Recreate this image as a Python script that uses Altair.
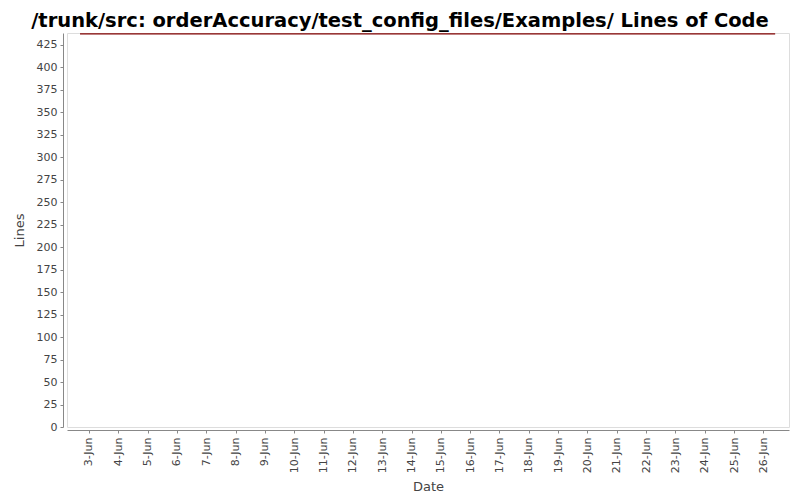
import altair as alt
import pandas as pd

# data
dates = ["2008-06-02T16:40:00", "2008-06-26T09:40:00"]
lines = [437, 437]
y_domain = [0, 438]
y_ticks = list(range(0, 426, 25))

df = pd.DataFrame({"date": dates, "lines": lines})

chart = alt.Chart(df).mark_line(color="#800000", strokeWidth=1.3).encode(
    x=alt.X("date:T",
            scale=alt.Scale(domain=[alt.DateTime(year=2008, month=6, date=2, hours=6),
                                    alt.DateTime(year=2008, month=6, date=26, hours=21)]),
            axis=alt.Axis(title="Date", format="%-d-%b", labelAngle=-90,
                          tickCount={"interval": "day", "step": 1},
                          labelAlign="right", labelBaseline="middle",
                          labelFontSize=11, labelColor="#444", labelPadding=4,
                          labelFont="DejaVu Sans", titleFont="DejaVu Sans",
                          titleFontSize=13, titleFontWeight="normal", titleColor="#444",
                          titlePadding=8,
                          domainColor="#888", tickColor="#888", tickSize=3,
                          offset=3, grid=False, labelOverlap=False)),
    y=alt.Y("lines:Q",
            scale=alt.Scale(domain=y_domain, nice=False, zero=True),
            axis=alt.Axis(title="Lines", values=y_ticks,
                          labelFontSize=11, labelColor="#444", labelPadding=3,
                          labelFont="DejaVu Sans", titleFont="DejaVu Sans",
                          titleFontSize=13, titleFontWeight="normal", titleColor="#444",
                          titlePadding=10,
                          domainColor="#888", tickColor="#888", tickSize=3,
                          offset=4, grid=False)),
).properties(
    width=722, height=394,
    title=alt.TitleParams("/trunk/src: orderAccuracy/test_config_files/Examples/ Lines of Code",
                          font="DejaVu Sans", fontSize=19.5, fontWeight="bold",
                          color="#000", anchor="middle", offset=0, dx=-28),
    autosize=alt.AutoSizeParams(type="none"),
    padding={"left": 59, "top": 25, "right": 3, "bottom": 72},
).configure_view(stroke="#888", strokeWidth=1).configure(background="white")

chart.save("out.html", embed_options={"renderer": "svg", "actions": False})
